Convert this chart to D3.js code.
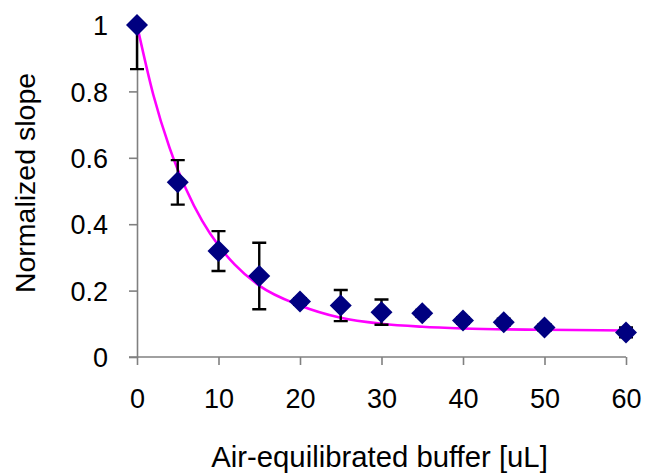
<!DOCTYPE html>
<html>
<head>
<meta charset="utf-8">
<script src="https://cdn.jsdelivr.net/npm/d3@7/dist/d3.min.js"></script>
<style>
  body { margin: 0; background: #fff; }
  text { font-family: "Liberation Sans", Arial, sans-serif; fill: #000; }
</style>
</head>
<body>
<div id="chart"></div>
<script>
// Measured points (volume in uL, normalized slope, +/- error).
var volumes = [0, 5, 10, 15, 20, 25, 30, 35, 40, 45, 50, 60],
    slopes = [1.0, 0.526, 0.319, 0.244, 0.167, 0.155, 0.135, 0.132, 0.110, 0.105, 0.089, 0.074],
    errors = [0.133, 0.067, 0.06, 0.1, 0.01, 0.047, 0.038, 0.01, 0.01, 0.01, 0.01, 0.015];

// Fitted curve.
var fitX = [0, 2, 4, 6, 8, 10, 12, 15, 20, 25, 30, 35, 40, 50, 60],
    fitY = [1.0, 0.79, 0.63, 0.507, 0.41, 0.336, 0.278, 0.215, 0.155, 0.118, 0.1, 0.091, 0.086, 0.082, 0.08];

var xTicks = [0, 10, 20, 30, 40, 50, 60],
    yTicks = [0, 0.2, 0.4, 0.6, 0.8, 1];

var width = 645,
    height = 473,
    plotLeft = 137,
    plotRight = 626,
    plotTop = 25,
    plotBottom = 357,
    axisColor = "#808080";

var x = d3.scaleLinear().domain([0, 60]).range([plotLeft, plotRight]),
    y = d3.scaleLinear().domain([0, 1]).range([plotBottom, plotTop]);

var svg = d3.select("#chart").append("svg")
      .attr("width", width)
      .attr("height", height);

svg.append("clipPath").attr("id", "plot")
  .append("rect")
    .attr("x", 0).attr("y", plotTop)
    .attr("width", width).attr("height", plotBottom - plotTop + 20);

// Axes.
var xAxis = svg.append("g")
    .attr("transform", "translate(0," + plotBottom + ")")
    .call(d3.axisBottom(x).tickValues(xTicks).tickSize(8).tickSizeOuter(0).tickPadding(24)
      .tickFormat(d3.format("d")));
xAxis.select(".domain").attr("d", "M" + (plotLeft - 8) + ",0H" + plotRight);

var yAxis = svg.append("g")
    .attr("transform", "translate(" + plotLeft + ",0)")
    .call(d3.axisLeft(y).tickValues(yTicks).tickSize(8).tickSizeOuter(0).tickPadding(21)
      .tickFormat(function (d){ return String(+d.toFixed(1)); }));

svg.selectAll(".domain, .tick line")
    .attr("stroke", axisColor)
    .attr("stroke-width", 1.6);
svg.selectAll(".tick text")
    .attr("font-family", "'Liberation Sans', Arial, sans-serif")
    .attr("font-size", "27px")
    .attr("fill", "#000");
yAxis.selectAll(".tick text").attr("dy", "0.36em");

// Axis titles.
svg.append("text")
    .attr("x", (plotLeft + plotRight) / 2 - 2)
    .attr("y", 467)
    .attr("text-anchor", "middle")
    .style("font-size", "29.3px")
    .text("Air-equilibrated buffer [uL]");

svg.append("text")
    .attr("transform", "translate(35,183) rotate(-90)")
    .attr("text-anchor", "middle")
    .style("font-size", "28.5px")
    .text("Normalized slope");

// Fitted curve.
var line = d3.line()
    .x(function (d, i){ return x(fitX[i]); })
    .y(function (d){ return y(d); })
    .curve(d3.curveMonotoneX);

svg.append("path")
    .datum(fitY)
    .attr("d", line)
    .attr("fill", "none")
    .attr("stroke", "#ff00ff")
    .attr("stroke-width", 2.6);

// Error bars, clipped at the top of the plot like the original.
var capHalf = 7;
svg.append("g")
    .attr("clip-path", "url(#plot)")
    .selectAll("path")
    .data(volumes)
  .enter().append("path")
    .attr("d", function (v, i){
      var cx = x(v),
          hi = y(slopes[i] + errors[i]),
          lo = y(slopes[i] - errors[i]);
      return "M" + cx + "," + hi + "V" + lo +
        "M" + (cx - capHalf) + "," + hi + "H" + (cx + capHalf) +
        "M" + (cx - capHalf) + "," + lo + "H" + (cx + capHalf);
    })
    .attr("fill", "none")
    .attr("stroke", "#000")
    .attr("stroke-width", 2.4);

// Diamond markers.
var r = 11;
svg.append("g").selectAll("path")
    .data(volumes)
  .enter().append("path")
    .attr("d", function (v, i){
      var cx = x(v), cy = y(slopes[i]);
      return "M" + cx + "," + (cy - r) + "L" + (cx + r) + "," + cy +
        "L" + cx + "," + (cy + r) + "L" + (cx - r) + "," + cy + "Z";
    })
    .attr("fill", "#000080");
</script>
</body>
</html>
